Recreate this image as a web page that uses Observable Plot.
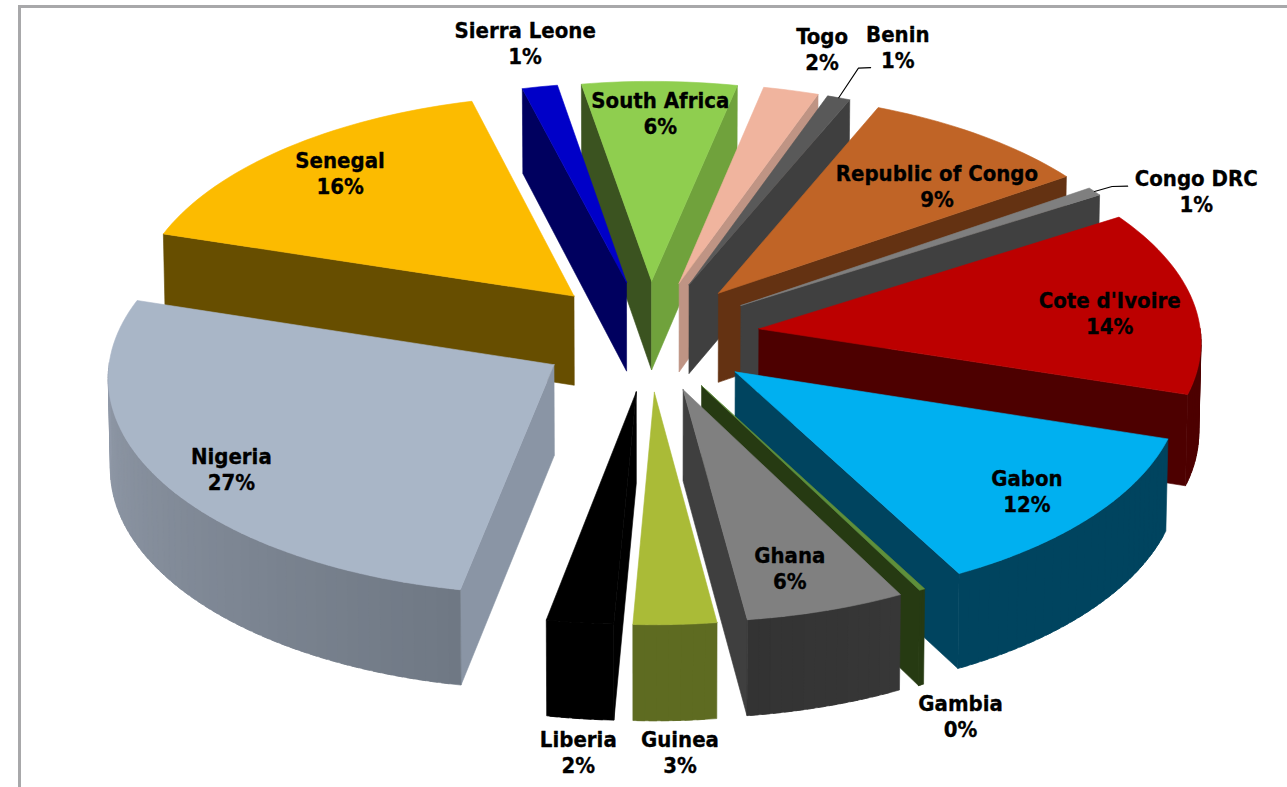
<!DOCTYPE html>
<html>
<head>
<meta charset="utf-8">
<script src="https://cdn.jsdelivr.net/npm/d3@7"></script>
<script src="https://cdn.jsdelivr.net/npm/@observablehq/plot@0.6"></script>
<style>
html,body{margin:0;padding:0;background:#fff;overflow:hidden}
#frame{position:absolute;left:18px;top:5px;right:-10px;bottom:-10px;border-left:3.5px solid #a8a8aa;border-top:3.5px solid #a8a8aa}
#chart{position:absolute;left:0;top:0}
</style>
</head>
<body>
<div id="frame"></div>
<div id="chart"></div>
<script>
// Data, clockwise from the top of the pie
const countries = ["South Africa","Togo","Benin","Republic of Congo","Congo DRC","Cote d'Ivoire","Gabon","Gambia","Ghana","Guinea","Liberia","Nigeria","Senegal","Sierra Leone"];
const shares = [6,2.15,0.9,9,0.65,13.88,12.3,0.2,5.5,2.85,2.3,26.8,16.1,1.37];

// Colours
const topColors = ["#8FCE4F","#F0B49E","#595959","#C06426","#7F7F7F","#BC0000","#00B0F0","#5F8F3A","#808080","#AABB37","#000000","#A9B6C7","#FCBB00","#0000C8"];
const darkSides = ["#3B5320","#7A5A4E","#3F3F3F","#643212","#404040","#4D0000","#00445F","#263A12","#3F3F3F","#5E6B21","#000000","#6F7884","#674E00","#00005F"];
const lightSides = ["#70A23C","#BF9484","#3F3F3F","#643212","#404040","#4D0000","#00445F","#263A12","#3F3F3F","#5E6B21","#000000","#8A95A5","#674E00","#00005F"];
const wallStart = ["#70A23C","#BF9484","#3F3F3F","#643212","#404040","#4D0000","#00445F","#263A12","#373737","#5E6B21","#000000","#6F7884","#674E00","#00005F"];
const wallEnd = ["#70A23C","#BF9484","#3F3F3F","#643212","#404040","#4D0000","#00445F","#263A12","#333333","#5E6B21","#000000","#98A1B0","#674E00","#00005F"];

// Label placement in pie units: distance from the pie centre and bearing in degrees
const labelRadius = [1.053,1.439,1.516,0.968,1.444,1.051,1.068,1.704,1.042,1.714,1.719,1.089,1.051,1.44];
const labelBearing = [1.4,16.9,23.4,44.1,62.4,84.6,129.5,157.7,163.2,177.9,184.9,237.4,316.2,347.9];
const leaders = {"Benin":[[1.375,21.5],[1.388,22.6]],"Congo DRC":[[1.285,57.5],[1.317,58.3]]};

// Projection of the tilted pie
const firstAngle = -9.7, explode = 0.25, explodeTilt = 1.035, persp = 0.05, cx = 649, cy = 335.5, A = 442, B = 215, depth = 90, labelStretch = 1.0326, labelLift = -1.5;
const rad = Math.PI / 180;
const total = d3.sum(shares);
function proj(gx, gy, drop = 0) {
  const w = 1 - persp * gy;
  return {x: cx + (A * gx / w) * (1 - 0.004 * drop), y: cy + B * gy / w + drop * depth / w};
}
const polar = (r, deg) => [r * Math.sin(deg * rad), -r * Math.cos(deg * rad)];
const labelPoint = (r, deg) => {
  const [gx, gy] = polar(r, deg);
  const p = proj(gx, gy * labelStretch);
  return {x: p.x, y: p.y + labelLift};
};

let cum = 0;
const slices = countries.map((name, i) => {
  const a0 = firstAngle + cum / total * 360;
  cum += shares[i];
  const a1 = firstAngle + cum / total * 360;
  const mid = (a0 + a1) / 2;
  const [ax, ay] = polar(explode, mid);
  return {name, i, a0, a1, mid, ax, ay: ay * explodeTilt};
});

const polys = [];
let pid = 0;
function addPoly(points, color) {
  const id = pid++;
  [...points, points[0]].forEach(p => polys.push({x: p.x, y: p.y, id, color}));
}
const front = d => { const n = ((d % 360) + 360) % 360; return n > 90 && n < 270; };
const lightFace = d => { const n = ((d % 360) + 360) % 360; return n >= 90 && n <= 125; };

[...slices].sort((p, q) => -Math.cos(p.mid * rad) + Math.cos(q.mid * rad)).forEach(s => {
  const rim = (deg, drop = 0) => {
    const [ux, uy] = polar(1, deg);
    return proj(s.ax + ux, s.ay + uy, drop);
  };
  const apex = (drop = 0) => proj(s.ax, s.ay, drop);
  // radial side faces
  [[s.a0, s.a0 - 90], [s.a1, s.a1 + 90]].forEach(([edge, normal]) => {
    if (front(normal)) {
      addPoly([apex(), rim(edge), rim(edge, 1), apex(1)], lightFace(normal) ? lightSides[s.i] : darkSides[s.i]);
    }
  });
  // curved outer wall, each strip running under the next so no seam shows
  const steps = Math.max(2, Math.ceil((s.a1 - s.a0) / 1.5));
  for (let k = 0; k < steps; k++) {
    const t0 = s.a0 + (s.a1 - s.a0) * k / steps;
    const t1 = s.a0 + (s.a1 - s.a0) * (k + 1) / steps;
    if (Math.cos(((t0 + t1) / 2) * rad) < 0) {
      const t2 = Math.min(s.a1, t1 + 1);
      addPoly([rim(t0), rim(t1), rim(t2), rim(t2, 1), rim(t1, 1), rim(t0, 1)],
        d3.interpolateRgb(wallStart[s.i], wallEnd[s.i])((k + 0.5) / steps));
    }
  }
  // top face
  const top = [apex()];
  for (let k = 0; k <= steps; k++) top.push(rim(s.a0 + (s.a1 - s.a0) * k / steps));
  addPoly(top, topColors[s.i]);
});

const labels = countries.map((name, i) => ({
  ...labelPoint(labelRadius[i], labelBearing[i]),
  text: `${name}\n${Math.round(shares[i])}%`
}));

const leaderRows = Object.entries(leaders).flatMap(([name, pts]) => {
  const s = slices[countries.indexOf(name)];
  const [ux, uy] = polar(1, s.mid);
  const start = proj(s.ax + ux, s.ay + uy);
  return [start, ...pts.map(([r, b]) => labelPoint(r, b))].map(p => ({...p, name}));
});

const chart = Plot.plot({
  width: 1287, height: 787,
  margin: 0,
  x: {domain: [0, 1287], range: [0, 1287], axis: null},
  y: {domain: [0, 787], range: [0, 787], axis: null},
  color: {type: "identity"},
  style: {background: "transparent", position: "relative"},
  marks: [
    Plot.line(polys, {x: "x", y: "y", z: "id", fill: "color", stroke: "color", strokeWidth: 0.6, curve: "linear"}),
    Plot.line(leaderRows, {x: "x", y: "y", z: "name", stroke: "#000", strokeWidth: 1.1, curve: "linear"}),
    Plot.text(labels, {x: "x", y: "y", text: "text", fontSize: 22, fontWeight: "bold", lineHeight: 1.18, lineAnchor: "middle", textAnchor: "middle", fill: "#000", stroke: "#000", strokeWidth: 0.3, fontFamily: "'DejaVu Sans Condensed','DejaVu Sans'"})
  ]
});
document.getElementById("chart").appendChild(chart);
</script>
</body>
</html>
